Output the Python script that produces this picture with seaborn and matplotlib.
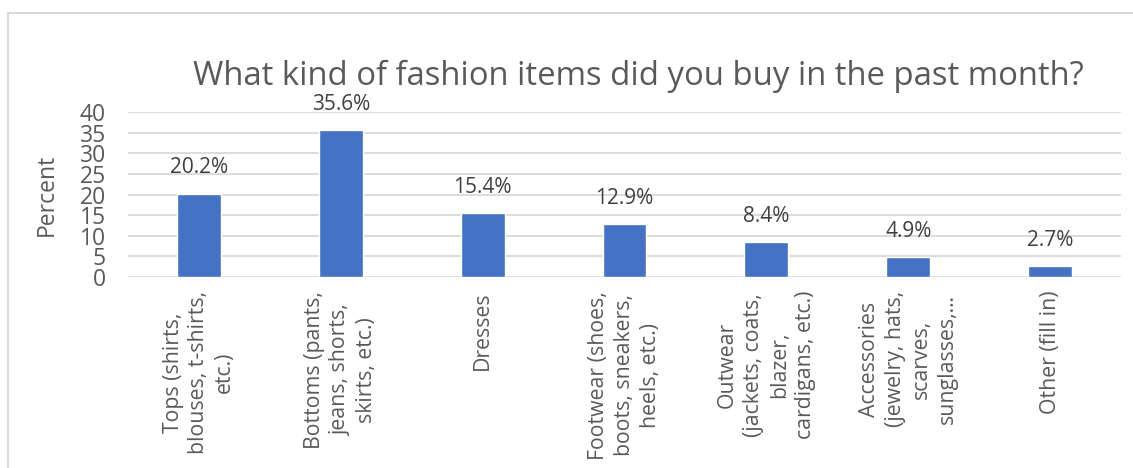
import matplotlib
matplotlib.use("Agg")
import matplotlib.pyplot as plt
import seaborn as sns
import pandas as pd
from matplotlib.patches import Rectangle

categories = [
    "Tops (shirts,\nblouses, t-shirts,\netc.)",
    "Bottoms (pants,\njeans, shorts,\nskirts, etc.)",
    "Dresses",
    "Footwear (shoes,\nboots, sneakers,\nheels, etc.)",
    "Outwear\n(jackets, coats,\nblazer,\ncardigans, etc.)",
    "Accessories\n(jewelry, hats,\nscarves,\nsunglasses,…",
    "Other (fill in)",
]
values = [20.2, 35.6, 15.4, 12.9, 8.4, 4.9, 2.7]
y_ticks = [0, 5, 10, 15, 20, 25, 30, 35, 40]

sns.set_theme(style="white")
plt.rcParams["font.family"] = ["Open Sans", "DejaVu Sans"]

W, H = 1133, 468
fig = plt.figure(figsize=(W / 100, H / 100), dpi=100)
ax = fig.add_axes([128 / W, 1 - 277 / H, (1121 - 128) / W, (277 - 112) / H])

df = pd.DataFrame({"cat": categories, "val": values})
sns.barplot(data=df, x="cat", y="val", color="#4472C4", width=0.31,
            saturation=1, ax=ax, zorder=3)

ax.set_ylim(0, 40)
ax.set_yticks(y_ticks)
ax.yaxis.grid(True, color="#d9d9d9", lw=1.3, zorder=0)
ax.set_axisbelow(True)
for s in ax.spines.values():
    s.set_visible(False)
ax.tick_params(axis="y", length=0, pad=16, labelsize=16.5, labelcolor="#595959")
ax.tick_params(axis="x", length=0, pad=10, labelsize=15.3, labelcolor="#595959")
ax.set_xlabel("")
ax.set_ylabel("Percent", fontsize=16.5, color="#595959")
ax.yaxis.set_label_coords((59 - 128) / (1121 - 128), 0.5)

for lbl in ax.get_xticklabels():
    lbl.set_rotation(90)
    lbl.set_ha("center")
    lbl.set_va("top")
    lbl.set_multialignment("center")
    lbl.set_linespacing(1.3)

for i, v in enumerate(values):
    ax.annotate(f"{v}%", (i, v), xytext=(0, 11), textcoords="offset points",
                ha="center", va="bottom", fontsize=15, color="#404040")

fig.text(638 / W, 1 - 76 / H, "What kind of fashion items did you buy in the past month?",
         ha="center", va="center", fontsize=23.7, color="#595959")

fig.patches.append(Rectangle((8 / W, -0.05), 1.1, 1 - 13 / H + 0.05,
                             transform=fig.transFigure, fill=False,
                             edgecolor="#d9d9d9", lw=1.5))

fig.savefig("out.png", dpi=100)
